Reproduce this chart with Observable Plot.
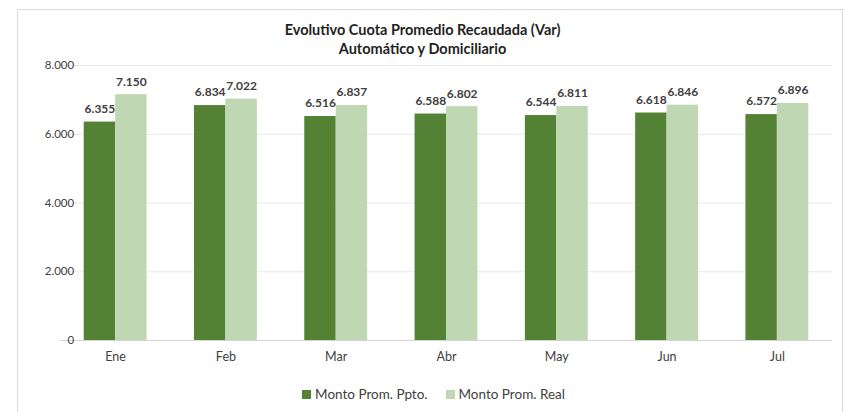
<!DOCTYPE html>
<html>
<head>
<meta charset="utf-8">
<script src="https://cdn.jsdelivr.net/npm/d3@7"></script>
<script src="https://cdn.jsdelivr.net/npm/@observablehq/plot@0.6"></script>
<style>
  html, body { margin: 0; padding: 0; background: #fff; }
  #wrap { position: relative; width: 845px; height: 412px; overflow: hidden; font-family: Lato, "Open Sans", sans-serif; }
  #frame { position: absolute; left: 17px; top: 9px; width: 826px; height: 420px; border: 1px solid #d9d9d9; box-sizing: border-box; }
  #title { position: absolute; left: 0; width: 845px; top: 20px; text-align: center; font-weight: bold; font-size: 14.5px; line-height: 19px; color: #1f1f1f; }
  #chart { position: absolute; left: 0; top: 0; }
  #legend { position: absolute; top: 386px; left: 0; width: 845px; display: flex; justify-content: center; gap: 18px; font-size: 13.5px; color: #404040; padding-left: 22px; box-sizing: border-box; }
  #legend span.item { display: flex; align-items: center; gap: 4px; }
  #legend span.sw { display: inline-block; width: 9px; height: 9px; }
</style>
</head>
<body>
<div id="wrap">
  <div id="frame"></div>
  <div id="chart"></div>
  <div id="title">Evolutivo Cuota Promedio Recaudada (Var)<br>Automático y Domiciliario</div>
  <div id="legend"></div>
</div>
<script>
const months = ["Ene", "Feb", "Mar", "Abr", "May", "Jun", "Jul"];
const ppto = [6355, 6834, 6516, 6588, 6544, 6618, 6572];
const real = [7150, 7022, 6837, 6802, 6811, 6846, 6896];
const seriesNames = ["Monto Prom. Ppto.", "Monto Prom. Real"];
const seriesColors = ["#548235", "#c0d7b3"];
const yTicks = [0, 2000, 4000, 6000, 8000];

const locale = d3.formatLocale({decimal: ",", thousands: ".", grouping: [3], currency: ["", ""]});
const fmt = locale.format(",d");

const rows = [];
months.forEach((m, i) => {
  rows.push({month: m, series: seriesNames[0], value: ppto[i]});
  rows.push({month: m, series: seriesNames[1], value: real[i]});
});

const gridExt = -23.7; // extend grid lines across facet gaps
const chart = Plot.plot({
  width: 845,
  height: 370,
  marginLeft: 60,
  marginRight: 13,
  marginTop: 65,
  marginBottom: 30,
  style: {fontFamily: "Lato, 'Open Sans', sans-serif", background: "transparent", overflow: "visible"},
  fx: {domain: months, paddingInner: 0.43, paddingOuter: 0.215, round: false, label: null},
  x: {domain: seriesNames, padding: 0, round: false, axis: null},
  y: {domain: [0, 8000], label: null},
  color: {domain: seriesNames, range: seriesColors},
  marks: [
    Plot.ruleY(yTicks.filter(d => d > 0), {stroke: "#e8e8e8", strokeWidth: 1, insetLeft: gridExt, insetRight: gridExt}),
    Plot.ruleY([0], {stroke: "#d4d4d4", strokeWidth: 1, insetLeft: gridExt, insetRight: gridExt}),
    Plot.barY(rows, {fx: "month", x: "series", y: "value", fill: "series"}),
    Plot.text(rows, {fx: "month", x: "series", y: "value", text: d => fmt(d.value), dy: -13, fontWeight: "bold", fontSize: 12, fill: "#404040"}),
    Plot.axisY({ticks: yTicks, tickFormat: fmt, tickSize: 0, tickPadding: 10, fontSize: 11.5, color: "#404040", label: null}),
    Plot.axisFx({anchor: "bottom", tickSize: 0, tickPadding: 12, fontSize: 12.5, color: "#404040", label: null})
  ]
});
document.getElementById("chart").appendChild(chart);

const legend = document.getElementById("legend");
seriesNames.forEach((name, i) => {
  const item = document.createElement("span");
  item.className = "item";
  const sw = document.createElement("span");
  sw.className = "sw";
  sw.style.background = seriesColors[i];
  const label = document.createElement("span");
  label.textContent = name;
  item.appendChild(sw);
  item.appendChild(label);
  legend.appendChild(item);
});
</script>
</body>
</html>
